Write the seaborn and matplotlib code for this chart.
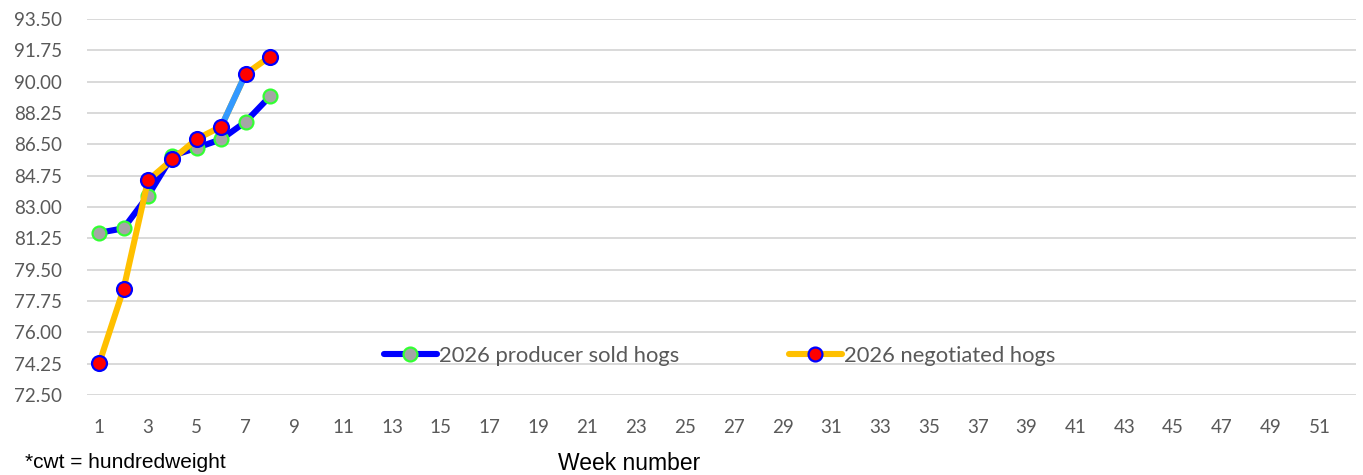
import matplotlib
matplotlib.use("Agg")
import matplotlib.pyplot as plt
from matplotlib.lines import Line2D
import seaborn as sns
import pandas as pd
import numpy as np

weeks = [1, 2, 3, 4, 5, 6, 7, 8]
producer_sold = [81.56, 81.81, 83.63, 85.86, 86.31, 86.78, 87.76, 89.18]
negotiated = [74.27, 78.43, 84.49, 85.66, 86.80, 87.49, 90.43, 91.40]
highlight_weeks = [6, 7]  # negotiated segment drawn in light blue
y_ticks = [72.50, 74.25, 76.00, 77.75, 79.50, 81.25, 83.00, 84.75, 86.50, 88.25, 90.00, 91.75, 93.50]
x_ticks = list(range(1, 52, 2))
labels = ["2026 producer sold hogs", "2026 negotiated hogs"]

sns.set_theme(style="white")
plt.rcParams['font.family'] = ['Lato', 'DejaVu Sans']

fig = plt.figure(figsize=(13.63, 4.75), dpi=100)
ax = fig.add_axes([87/1363, 1-395/475, (1356-87)/1363, (395-19)/475])

df_p = pd.DataFrame({"week": weeks, "price": producer_sold})
df_n = pd.DataFrame({"week": weeks, "price": negotiated})

blue = "#0000ff"
orange = "#ffc000"
lightblue = "#3399ff"
gray = "#a5a5a5"
green = "#33ff33"
red = "#ff0000"

sns.lineplot(data=df_p, x="week", y="price", ax=ax, color=blue, lw=4.4,
             marker="o", markersize=10, markerfacecolor=gray,
             markeredgecolor=green, markeredgewidth=1.6, zorder=3)
sns.lineplot(data=df_n, x="week", y="price", ax=ax, color=orange, lw=4.4, zorder=4)
seg = df_n[df_n["week"].isin(highlight_weeks)]
ax.plot(seg["week"], seg["price"], color=lightblue, lw=4.4, zorder=5,
        solid_capstyle="butt")
sns.scatterplot(data=df_n, x="week", y="price", ax=ax, s=115, color=red,
                edgecolor=blue, linewidth=1.6, zorder=6)

ax.set_xlim(0.5, 52.5)
ax.set_ylim(72.5, 93.5)
ax.set_yticks(y_ticks)
ax.set_yticklabels([f"{v:.2f}" for v in y_ticks])
ax.set_xticks(x_ticks)
ax.set_xticklabels([str(v) for v in x_ticks])
ax.grid(axis="y", color="#d9d9d9", lw=1.4, zorder=0)
ax.set_axisbelow(True)
for s in ax.spines.values():
    s.set_visible(False)
ax.tick_params(axis="both", length=0, labelsize=13.5, labelcolor="#595959")
ax.tick_params(axis="y", pad=18)
ax.tick_params(axis="x", pad=17)
ax.set_xlabel("")
ax.set_ylabel("")

handles = [
    Line2D([], [], color=blue, lw=4.4, marker="o", markersize=10,
           markerfacecolor=gray, markeredgecolor=green, markeredgewidth=1.6),
    Line2D([], [], color=orange, lw=4.4, marker="o", markersize=10,
           markerfacecolor=red, markeredgecolor=blue, markeredgewidth=1.6),
]
leg = ax.legend(handles, labels, loc="center", bbox_to_anchor=(0.4985, 0.104),
                ncol=2, frameon=False, fontsize=15.8, handlelength=2.4,
                handletextpad=0.1, columnspacing=5.0)
for t in leg.get_texts():
    t.set_color("#595959")

fig.text(629/1363, 1-463/475, "Week number", ha="center", va="center",
         fontsize=16.5, family=["Liberation Sans", "DejaVu Sans"], color="black")
fig.text(25/1363, 3/475, "*cwt = hundredweight", ha="left", va="bottom",
         fontsize=15, family=["Liberation Sans", "DejaVu Sans"], color="black")

fig.savefig("out.png", dpi=100)
